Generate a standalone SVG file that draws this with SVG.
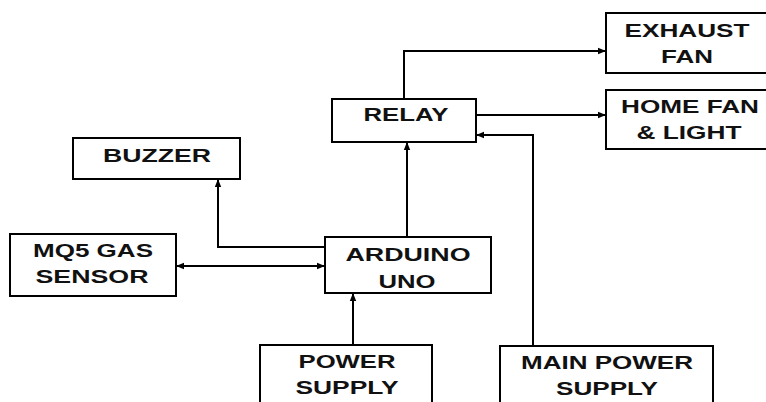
<svg xmlns="http://www.w3.org/2000/svg" width="766" height="402" viewBox="0 0 766 402">
<style>
.box{fill:#fff;stroke:#000;stroke-width:2}
.lbl{font-family:"Liberation Sans",Arial,sans-serif;font-weight:bold;font-size:19px;fill:#111;text-anchor:middle}
.con{fill:none;stroke:#000;stroke-width:2}
</style>
<defs>
<marker id="ah" viewBox="0 0 10 10" refX="10" refY="5" markerWidth="4" markerHeight="4" orient="auto-start-reverse" markerUnits="strokeWidth">
<path d="M0,1 L10,5 L0,9 z" fill="#000"/>
</marker>
</defs>
<rect width="766" height="402" fill="#fff"/>
<g id="connectors">
<path class="con" d="M404,99 V51 H606" marker-end="url(#ah)"/>
<path class="con" d="M476,115 H606" marker-end="url(#ah)"/>
<path class="con" d="M533,346 V135 H476" marker-end="url(#ah)"/>
<path class="con" d="M407,237 V142" marker-end="url(#ah)"/>
<path class="con" d="M353,345 V293" marker-end="url(#ah)"/>
<path class="con" d="M325,247 H218 V179" marker-end="url(#ah)"/>
<path class="con" d="M176,266 H325" marker-start="url(#ah)" marker-end="url(#ah)"/>
</g>
<g id="exhaust">
<rect class="box" x="606" y="13" width="162" height="60"/>
<text class="lbl" x="687" y="37" textLength="125" lengthAdjust="spacingAndGlyphs">EXHAUST</text>
<text class="lbl" x="687" y="63" textLength="52" lengthAdjust="spacingAndGlyphs">FAN</text>
</g>
<g id="homefan">
<rect class="box" x="606" y="90" width="162" height="59"/>
<text class="lbl" x="690" y="113" textLength="138" lengthAdjust="spacingAndGlyphs">HOME FAN</text>
<text class="lbl" x="689" y="139" textLength="105" lengthAdjust="spacingAndGlyphs">&amp; LIGHT</text>
</g>
<g id="relay">
<rect class="box" x="332" y="99" width="144" height="43"/>
<text class="lbl" x="406" y="121" textLength="85" lengthAdjust="spacingAndGlyphs">RELAY</text>
</g>
<g id="buzzer">
<rect class="box" x="73" y="138" width="167" height="41"/>
<text class="lbl" x="157" y="162" textLength="108" lengthAdjust="spacingAndGlyphs">BUZZER</text>
</g>
<g id="mq5">
<rect class="box" x="10" y="234" width="166" height="62"/>
<text class="lbl" x="93" y="257" textLength="120" lengthAdjust="spacingAndGlyphs">MQ5 GAS</text>
<text class="lbl" x="92" y="283" textLength="113" lengthAdjust="spacingAndGlyphs">SENSOR</text>
</g>
<g id="arduino">
<rect class="box" x="325" y="237" width="166" height="56"/>
<text class="lbl" x="408" y="261" textLength="125" lengthAdjust="spacingAndGlyphs">ARDUINO</text>
<text class="lbl" x="407" y="288" textLength="57" lengthAdjust="spacingAndGlyphs">UNO</text>
</g>
<g id="power">
<rect class="box" x="260" y="345" width="172" height="62"/>
<text class="lbl" x="347" y="368" textLength="97" lengthAdjust="spacingAndGlyphs">POWER</text>
<text class="lbl" x="347" y="394" textLength="103" lengthAdjust="spacingAndGlyphs">SUPPLY</text>
</g>
<g id="mainpower">
<rect class="box" x="500" y="346" width="213" height="62"/>
<text class="lbl" x="607" y="369" textLength="172" lengthAdjust="spacingAndGlyphs">MAIN POWER</text>
<text class="lbl" x="607" y="395" textLength="102" lengthAdjust="spacingAndGlyphs">SUPPLY</text>
</g>
</svg>
